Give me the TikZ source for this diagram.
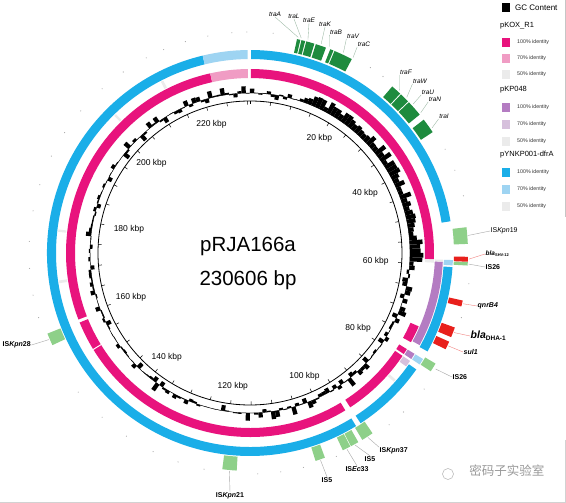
\documentclass[tikz,border=0pt]{standalone}
\usepackage{fontspec}
\setmainfont{Liberation Sans}
\newfontfamily\cjk{Noto Sans CJK SC}
\definecolor{cpink}{HTML}{E8137D}
\definecolor{cpinkL}{HTML}{F09CC4}
\definecolor{cgrayL}{HTML}{EBEBEB}
\definecolor{cpurp}{HTML}{B47CC2}
\definecolor{cpurpL}{HTML}{D6C0DC}
\definecolor{cblue}{HTML}{1AAEE8}
\definecolor{cblueL}{HTML}{9ED4F2}
\definecolor{cdg}{HTML}{1E8B3E}
\definecolor{clg}{HTML}{8ED089}
\definecolor{cred}{HTML}{E8201C}
% annular sector: colour, angle1, angle2 (degrees clockwise from top), r1, r2
\newcommand{\RingSeg}[5]{\fill[#1] ({90-(#2)}:#4) arc[start angle={90-(#2)}, end angle={90-(#3)}, radius=#4] -- ({90-(#3)}:#5) arc[start angle={90-(#3)}, end angle={90-(#2)}, radius=#5] -- cycle;}
\tikzset{
  leadg/.style={draw=gray!70, line width=0.4pt},
  leadtra/.style={draw=cdg!45!gray!60, line width=0.35pt},
  leadr/.style={draw=cred!55, line width=0.4pt},
  tralbl/.style={font=\fontsize{6.5}{7}\selectfont\itshape, inner sep=0.5pt},
  islbl/.style={font=\fontsize{7}{8}\selectfont\bfseries, inner sep=0.5pt},
  kbplbl/.style={font=\fontsize{8.5}{9}\selectfont, inner sep=0pt},
  legt/.style={font=\fontsize{5.3}{6}\selectfont, anchor=west, inner sep=0pt, text=black!80},
  legh/.style={font=\fontsize{7.5}{8}\selectfont, anchor=west, inner sep=0pt},
}
\begin{document}
\begin{tikzpicture}[x=1pt,y=1pt]
\useasboundingbox (-250,-250) rectangle (316,253);
\fill[white] (-250,-250) rectangle (316,253);

% ---------------- GC content ----------------
\pgfmathsetseed{17}
\foreach \i in {0,...,239}{
  \pgfmathsetmacro{\a}{\i*1.5}
  \pgfmathsetmacro{\b}{\a+1.5}
  \pgfmathsetmacro{\d}{(\a>18 && \a<84) ? (4+8*rnd) : ((\a>=84 && \a<92) ? (7+8*rnd) : ((\a>=92 && \a<165) ? (14*(rnd-0.4)) : (16*(rnd-0.45)*rnd)))}
  \pgfmathsetmacro{\rr}{160+\d}
  \RingSeg{black}{\a}{\b}{160}{\rr}
}
\draw[black, line width=0.4pt] (0,0) circle[radius=160];

% ---------------- scale circle ----------------
\draw[black, line width=0.8pt] (0,0) circle[radius=152];
\foreach \k in {0,5,...,230}{
  \pgfmathsetmacro{\t}{90-\k/230.606*360}
  \draw[black, line width=0.5pt] (\t:152) -- (\t:148.5);
}
\foreach \k in {20,40,...,220}{
  \pgfmathsetmacro{\t}{\k/230.606*360}
  \pgfmathsetmacro{\an}{mod(450-\t,360)}
  \pgfmathsetmacro{\pa}{90-\t}
  \node[kbplbl, anchor=\an] (k\k) at (\pa:139) {\k\ kbp};
}

% ---------------- pKOX_R1 ring (pink) ----------------
\RingSeg{cpink}{0.3}{92}{175}{184}
\RingSeg{cgrayL}{92}{93}{175}{184}
\RingSeg{cpink}{113.5}{119}{175}{184}
\RingSeg{cpink}{121.5}{123.3}{175}{184}
\RingSeg{cpink}{124}{147}{175}{184}
\RingSeg{cpink}{148.8}{238.2}{175}{184}
\RingSeg{cpink}{238.6}{247.8}{175}{184}
\RingSeg{cpink}{248.8}{347.5}{175}{184}
\RingSeg{cpinkL}{347.5}{359.3}{175}{184}

% ---------------- pKP048 ring (purple) ----------------
\RingSeg{cpurp}{92.6}{118.5}{185}{193}
\RingSeg{cpurp}{121.5}{123.3}{185}{193}
\RingSeg{cpurpL}{124}{126}{185}{193}
\RingSeg{cgrayL}{92}{92.6}{185}{193}
\RingSeg{cgrayL}{131}{131.8}{185}{193}
\RingSeg{cgrayL}{261}{261.8}{185}{193}
\RingSeg{cgrayL}{276.3}{277}{185}{193}
\RingSeg{cgrayL}{315.3}{316}{185}{193}
\RingSeg{cgrayL}{332.5}{333.3}{185}{193}

% ---------------- pYNKP001-dfrA ring (blue) ----------------
\RingSeg{cblue}{0.3}{81}{194}{203}
\RingSeg{cblueL}{92}{93.5}{194}{203}
\RingSeg{cblue}{94}{119}{194}{203}
\RingSeg{cblueL}{121.5}{123.3}{194}{203}
\RingSeg{cblue}{125}{147}{194}{203}
\RingSeg{cblue}{148.5}{346.5}{194}{203}
\RingSeg{cblueL}{346.5}{359.3}{194}{203}

% ---------------- scattered marks ----------------
\foreach \t in {-23,-17,-11,-4.7,-0.8,6,33,37,62,68,75,98,107,128,136,141,157,166,172,178,192,199,206,214,222,231,253,259,266,273,281,288,296,303,310,318,325,332}{
  \fill[gray!70] ({90-\t}:221) circle[radius=0.55];
}

% ---------------- tra genes (dark green) ----------------
\RingSeg{cdg}{12.4}{13.3}{205}{219}
\RingSeg{cdg}{13.6}{14.6}{205}{219}
\RingSeg{cdg}{14.9}{17.1}{205}{219}
\RingSeg{cdg}{17.5}{20.3}{205}{219}
\RingSeg{cdg}{21.5}{22.4}{205}{219}
\RingSeg{cdg}{22.7}{27.7}{205}{219}
\RingSeg{cdg}{40.5}{43.3}{205}{219}
\RingSeg{cdg}{43.6}{46.2}{205}{219}
\RingSeg{cdg}{46.5}{50.8}{205}{219}
\RingSeg{cdg}{52.5}{56.5}{205}{219}

% ---------------- IS elements (light green) ----------------
\RingSeg{clg}{83.2}{87.6}{204}{218}
\RingSeg{clg}{92.4}{93.3}{204}{218}
\RingSeg{clg}{120.8}{123.2}{204}{216}
\RingSeg{clg}{145.8}{149}{204}{218}
\RingSeg{clg}{150.2}{152.4}{204}{218}
\RingSeg{clg}{152.6}{154.8}{204}{218}
\RingSeg{clg}{159.9}{162.5}{204}{218}
\RingSeg{clg}{183.5}{187.3}{204}{218}
\RingSeg{clg}{245}{248.3}{204}{218}

% ---------------- resistance genes (red) ----------------
\RingSeg{cred}{91}{92.3}{204}{218}
\RingSeg{cred}{102.6}{104.2}{204}{218}
\RingSeg{cred}{110}{112.7}{204}{218}
\RingSeg{cred}{114}{116.2}{204}{218}

% ---------------- feature anchor points ----------------
\foreach \n/\t in {traA/12.6,traL/13.4,traE/15.2,traK/18.8,traB/21,traV/25,traC/27.8,traF/42.6,traW/45.2,traU/47.6,traN/50.6,traI/55.5}{
  \coordinate (f\n) at ({90-\t}:221);
}
\foreach \n/\t in {Kpn19/85.4,IS26a/92.9,IS26b/122,Kpn37/147.4,IS5a/151.3,Ec33/153.7,IS5b/161.2,Kpn21/185.4,Kpn28/246.7}{
  \coordinate (f\n) at ({90-\t}:219);
}
\foreach \n/\t in {SHV/91.6,qnr/103.4,DHA/111.3,sul/115.1}{
  \coordinate (f\n) at ({90-\t}:219);
}

% ---------------- tra labels ----------------
\node[tralbl] (ltraA) at (25,239) {traA};
\node[tralbl] (ltraL) at (44,237) {traL};
\node[tralbl] (ltraE) at (59,233) {traE};
\node[tralbl] (ltraK) at (75,229) {traK};
\node[tralbl] (ltraB) at (86,221) {traB};
\node[tralbl] (ltraV) at (103,217) {traV};
\node[tralbl] (ltraC) at (114,209) {traC};
\node[tralbl] (ltraF) at (156,181) {traF};
\node[tralbl] (ltraW) at (170,172) {traW};
\node[tralbl] (ltraU) at (178,161) {traU};
\node[tralbl] (ltraN) at (185,154) {traN};
\node[tralbl] (ltraI) at (194,137) {traI};
\foreach \n in {traA,traL,traE,traK}{\draw[leadtra] (l\n.south) -- (f\n);}
\foreach \n in {traB,traV,traC,traF,traW,traU,traN,traI}{\draw[leadtra] (l\n.south west) -- (f\n);}

% ---------------- IS and resistance labels ----------------
\node[islbl, font=\fontsize{7}{8}\selectfont, anchor=west] (lKpn19) at (240,22) {IS\textit{Kpn}19};
\node[anchor=west, inner sep=0.5pt] (lSHV) at (235,-1) {\fontsize{6.5}{7}\selectfont\bfseries\itshape bla\textsubscript{\fontsize{4}{4}\selectfont\upshape SHV-12}};
\node[islbl, anchor=west] (lIS26a) at (235,-14) {IS26};
\node[islbl, font=\fontsize{7}{8}\selectfont\bfseries\itshape, anchor=west] (lqnr) at (227,-53) {qnrB4};
\node[anchor=west, inner sep=0.5pt] (lDHA) at (220,-83) {\fontsize{10.5}{11}\selectfont\bfseries\itshape bla\textsubscript{\fontsize{6.5}{7}\selectfont\upshape DHA-1}};
\node[islbl, font=\fontsize{7}{8}\selectfont\bfseries\itshape, anchor=west] (lsul) at (213,-99) {sul1};
\node[islbl, anchor=west] (lIS26b) at (202,-124) {IS26};
\node[islbl, anchor=west] (lKpn37) at (129,-198) {IS\textit{Kpn}37};
\node[islbl] (lIS5a) at (120,-206) {IS5};
\node[islbl] (lEc33) at (107,-216) {IS\textit{Ec}33};
\node[islbl] (lIS5b) at (77,-227) {IS5};
\node[islbl] (lKpn21) at (-20,-243) {IS\textit{Kpn}21};
\node[islbl, anchor=west] (lKpn28) at (-248,-92) {IS\textit{Kpn}28};

\draw[leadg] (fKpn19) -- (lKpn19.west);
\draw[leadr] (fSHV) -- (lSHV.west);
\draw[leadg] (fIS26a) -- (lIS26a.west);
\draw[leadr] (fqnr) -- (lqnr.west);
\draw[leadr] (fDHA) -- (lDHA.west);
\draw[leadr] (fsul) -- (lsul.west);
\draw[leadg] (fIS26b) -- (lIS26b.west);
\draw[leadg] (fKpn37) -- (lKpn37.north west);
\draw[leadg] (fIS5a) -- (lIS5a.north);
\draw[leadg] (fEc33) -- (lEc33.north);
\draw[leadg] (fIS5b) -- (lIS5b.north);
\draw[leadg] (fKpn21) -- (lKpn21.north);
\draw[leadg] (fKpn28) -- (lKpn28.east);

% ---------------- title ----------------
\node[font=\fontsize{20.5}{24}\selectfont] (title1) at (-2,7) {pRJA166a};
\node[font=\fontsize{20.5}{24}\selectfont] (title2) at (-2,-27) {230606 bp};

% ---------------- legend ----------------
\fill[black] (252,250) rectangle (260,241);
\node[legh, font=\fontsize{8}{9}\selectfont] (lgGC) at (265,245) {GC Content};
\node[legh] (lgA) at (250,227) {pKOX\_R1};
\fill[cpink] (252,215) rectangle (260,206);
\node[legt] (lgA1) at (267,210.5) {100\% identity};
\fill[cpinkL] (252,199) rectangle (260,190);
\node[legt] (lgA2) at (267,194.5) {70\% identity};
\fill[cgrayL] (252,183) rectangle (260,174);
\node[legt] (lgA3) at (267,178.5) {50\% identity};
\node[legh] (lgB) at (250,163) {pKP048};
\fill[cpurp] (252,150) rectangle (260,141);
\node[legt] (lgB1) at (267,145.5) {100\% identity};
\fill[cpurpL] (252,133) rectangle (260,124);
\node[legt] (lgB2) at (267,128.5) {70\% identity};
\fill[cgrayL] (252,116) rectangle (260,107);
\node[legt] (lgB3) at (267,111.5) {50\% identity};
\node[legh] (lgC) at (250,98) {pYNKP001-dfrA};
\fill[cblue] (252,85) rectangle (260,76);
\node[legt] (lgC1) at (267,80.5) {100\% identity};
\fill[cblueL] (252,68) rectangle (260,59);
\node[legt] (lgC2) at (267,63.5) {70\% identity};
\fill[cgrayL] (252,51) rectangle (260,42);
\node[legt] (lgC3) at (267,46.5) {50\% identity};
\draw[gray!45, line width=0.6pt] (315,253) -- (315,36);

% ---------------- watermark ----------------
\draw[gray!60, line width=0.5pt] (198,-221) circle[radius=5.5];
\node[font=\cjk\fontsize{12.5}{13}\selectfont, text=gray!80] (wm) at (257,-218) {密码子实验室};
\draw[gray!35, line width=0.5pt] (315,-187) -- (315,-249.5) -- (-250,-249.5);
\end{tikzpicture}
\end{document}
